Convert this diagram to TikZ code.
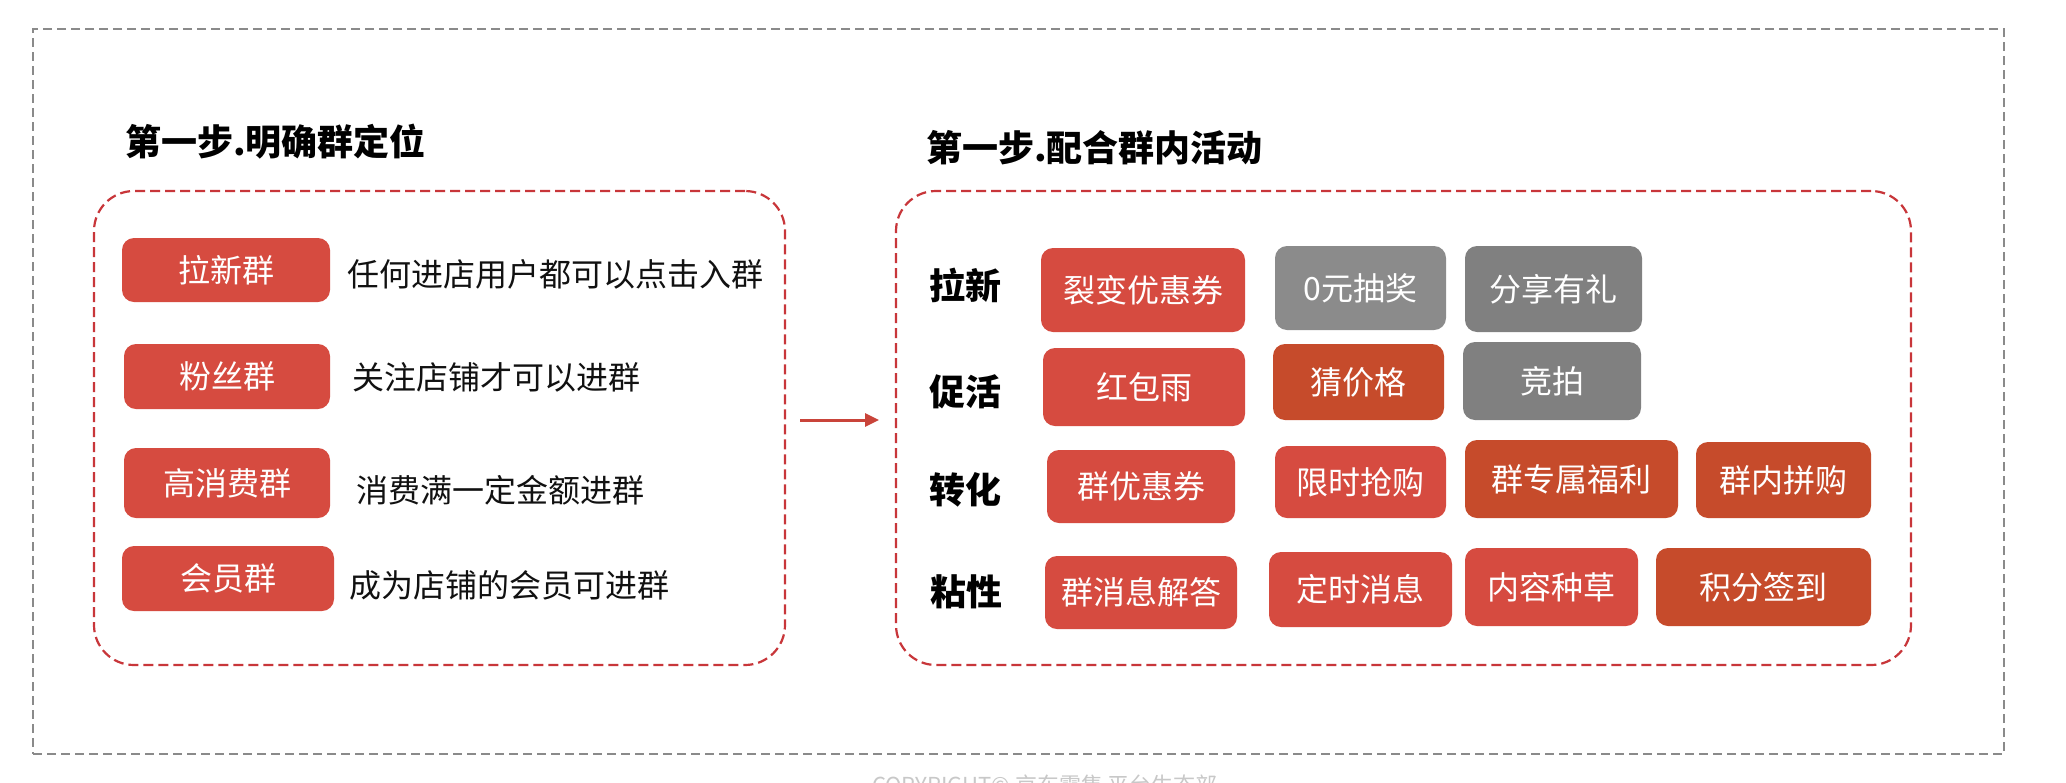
\documentclass[tikz,border=0pt]{standalone}
\usepackage{fontspec}
\setmainfont{Noto Sans CJK SC}[BoldFont={Noto Sans CJK SC Black}]
\usetikzlibrary{arrows.meta}
\definecolor{boxred}{HTML}{D64B40}
\definecolor{boxdark}{HTML}{C64B2B}
\definecolor{boxgrayl}{HTML}{8B8B8B}
\definecolor{boxgray}{HTML}{808080}
\definecolor{dashred}{HTML}{C8363A}
\definecolor{framegray}{HTML}{8A8A8A}
\definecolor{arrowred}{HTML}{C9443A}
\definecolor{txt}{HTML}{111111}
\definecolor{copy}{HTML}{C8C8C8}
\begin{document}
\begin{tikzpicture}[x=1pt,y=-1pt,
  tag/.style={rounded corners=12pt, text=white, inner sep=0pt,
    font=\fontsize{32}{36}\selectfont},
  desc/.style={anchor=west, inner sep=0pt, text=txt, font=\fontsize{32}{36}\selectfont},
  title/.style={anchor=west, inner sep=0pt, text=black, font=\bfseries\fontsize{36}{40}\selectfont},
  rowlabel/.style={inner sep=0pt, text=black, font=\bfseries\fontsize{36}{40}\selectfont},
  groupbox/.style={draw=dashred, line width=2.2pt, dash pattern=on 10pt off 5pt, rounded corners=40pt, inner sep=0pt},
  frame/.style={draw=framegray, line width=2pt, dash pattern=on 9pt off 5pt, inner sep=0pt},
  flow/.style={draw=arrowred, line width=3pt, -{Triangle[length=14pt,width=13pt]}}
]
\clip (0,0) rectangle (2066,782);
\fill[white] (0,0) rectangle (2066,782);

% outer frame
\node[frame, minimum width=1971pt, minimum height=725pt] (fr) at (1018.5,391.5) {};

% titles
\node[title] (tl) at (125,142) {第一步.明确群定位};
\node[title] (tr) at (926,148) {第一步.配合群内活动};

% group boxes
\node[groupbox, minimum width=691pt, minimum height=474pt] (lg) at (439.5,428) {};
\node[groupbox, minimum width=1015pt, minimum height=474pt] (rg) at (1403.5,428) {};

% left tags
\node[tag, fill=boxred, minimum width=208pt, minimum height=64pt] (l1) at (226,270) {拉新群};
\node[tag, fill=boxred, minimum width=206pt, minimum height=65pt] (l2) at (227,376.5) {粉丝群};
\node[tag, fill=boxred, minimum width=206pt, minimum height=70pt] (l3) at (227,483) {高消费群};
\node[tag, fill=boxred, minimum width=212pt, minimum height=65pt] (l4) at (228,578.5) {会员群};

\node[desc] (d1) at (347,274) {任何进店用户都可以点击入群};
\node[desc] (d2) at (352,377) {关注店铺才可以进群};
\node[desc] (d3) at (356,490) {消费满一定金额进群};
\node[desc] (d4) at (349,585) {成为店铺的会员可进群};

% arrow
\coordinate (a1) at (800,420);
\coordinate (a2) at (879,420);
\draw[flow] (a1) -- (a2);

% row labels
\node[rowlabel] (r1) at (965,285) {拉新};
\node[rowlabel] (r2) at (965,392) {促活};
\node[rowlabel] (r3) at (965,490) {转化};
\node[rowlabel] (r4) at (966,592) {粘性};

% right tags
\node[tag, fill=boxred, minimum width=204pt, minimum height=84pt] (b11) at (1143,290) {裂变优惠券};
\node[tag, fill=boxgrayl, minimum width=171pt, minimum height=84pt] (b12) at (1360.5,288) {0元抽奖};
\node[tag, fill=boxgray, minimum width=177pt, minimum height=86pt] (b13) at (1553.5,289) {分享有礼};

\node[tag, fill=boxred, minimum width=202pt, minimum height=78pt] (b21) at (1144,387) {红包雨};
\node[tag, fill=boxdark, minimum width=171pt, minimum height=76pt] (b22) at (1358.5,382) {猜价格};
\node[tag, fill=boxgray, minimum width=178pt, minimum height=78pt] (b23) at (1552,381) {竞拍};

\node[tag, fill=boxred, minimum width=188pt, minimum height=73pt] (b31) at (1141,486.5) {群优惠券};
\node[tag, fill=boxred, minimum width=171pt, minimum height=72pt] (b32) at (1360.5,482) {限时抢购};
\node[tag, fill=boxdark, minimum width=213pt, minimum height=78pt] (b33) at (1571.5,479) {群专属福利};
\node[tag, fill=boxdark, minimum width=175pt, minimum height=76pt] (b34) at (1783.5,480) {群内拼购};

\node[tag, fill=boxred, minimum width=192pt, minimum height=73pt] (b41) at (1141,592.5) {群消息解答};
\node[tag, fill=boxred, minimum width=183pt, minimum height=75pt] (b42) at (1360.5,589.5) {定时消息};
\node[tag, fill=boxred, minimum width=173pt, minimum height=78pt] (b43) at (1551.5,587) {内容种草};
\node[tag, fill=boxdark, minimum width=215pt, minimum height=78pt] (b44) at (1763.5,587) {积分签到};

% copyright (cut off at bottom edge, as in the reference)
\node[anchor=base, inner sep=0pt, text=copy, font=\fontsize{22}{26}\selectfont] (cp) at (1045,793) {COPYRIGHT© 京东零售 平台生态部};
\end{tikzpicture}
\end{document}
